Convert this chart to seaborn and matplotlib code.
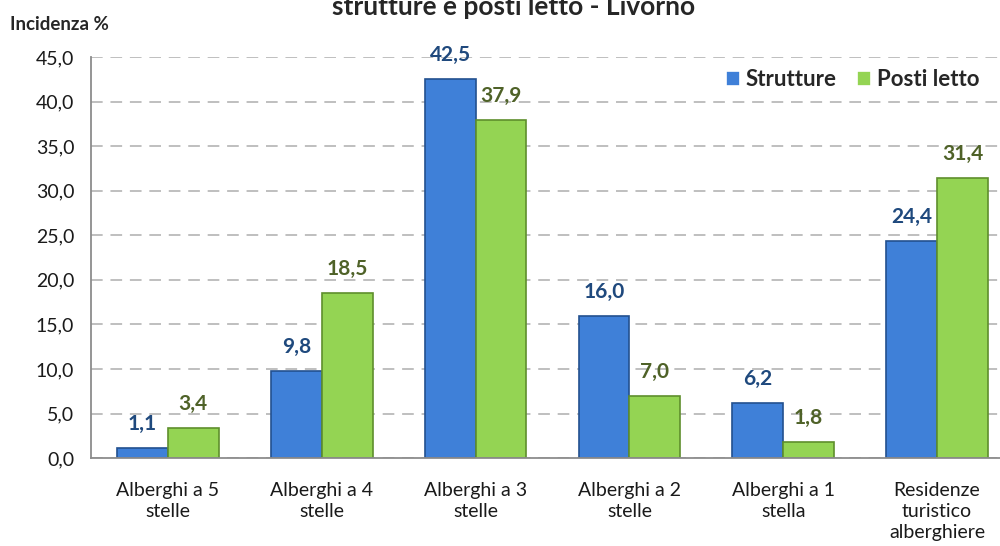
import pandas as pd
import matplotlib
matplotlib.use('Agg')
import matplotlib.pyplot as plt
import seaborn as sns
from matplotlib.ticker import FuncFormatter, MultipleLocator

# Data
categorie = ['Alberghi a 5\nstelle', 'Alberghi a 4\nstelle', 'Alberghi a 3\nstelle',
             'Alberghi a 2\nstelle', 'Alberghi a 1\nstella',
             'Residenze\nturistico\nalberghiere']
strutture = [1.1, 9.8, 42.5, 16.0, 6.2, 24.4]
posti_letto = [3.4, 18.5, 37.9, 7.0, 1.8, 31.4]
serie = ['Strutture', 'Posti letto']

df = pd.DataFrame({
    'categoria': categorie * 2,
    'valore': strutture + posti_letto,
    'serie': [serie[0]] * len(categorie) + [serie[1]] * len(categorie),
})

BLUE = '#3F80D8'
GREEN = '#94D453'
BLUE_EDGE = '#23508F'
GREEN_EDGE = '#5F8F2C'
BLUE_TXT = '#1F497D'
GREEN_TXT = '#4F6228'

sns.set_style('white')
plt.rcParams['font.family'] = ['Lato', 'DejaVu Sans']

fig = plt.figure(figsize=(10, 5.46), dpi=100)
ax = fig.add_axes([0.091, 0.161, 0.923, 0.7345])

sns.barplot(data=df, x='categoria', y='valore', hue='serie',
            palette=[BLUE, GREEN], saturation=1, width=0.66, gap=0, ax=ax,
            linewidth=1.2)

for cont, ec, tc in zip(ax.containers, [BLUE_EDGE, GREEN_EDGE], [BLUE_TXT, GREEN_TXT]):
    for p in cont:
        p.set_edgecolor(ec)
    ax.bar_label(cont, fmt=lambda v: f'{v:.1f}'.replace('.', ','),
                 padding=10, color=tc, fontsize=15, fontweight='bold')

ax.set_xlim(-0.5, 5.5)
ax.set_ylim(0, 45)
ax.yaxis.set_major_locator(MultipleLocator(5))
ax.yaxis.set_major_formatter(FuncFormatter(lambda v, _: f'{v:.1f}'.replace('.', ',')))
ax.grid(axis='y', color='#BFBFBF', linestyle=(0, (6, 4)), linewidth=1.4)
ax.set_axisbelow(True)
ax.tick_params(axis='y', labelsize=14, length=0, pad=12, colors='#1a1a1a')
ax.tick_params(axis='x', labelsize=14, length=0, pad=17, colors='#1a1a1a')
for lbl in ax.get_xticklabels():
    lbl.set_linespacing(1.3)
ax.set_xlabel('')
ax.set_ylabel('')

for side in ['top', 'right']:
    ax.spines[side].set_visible(False)
for side in ['left', 'bottom']:
    ax.spines[side].set_color('#8C8C8C')
    ax.spines[side].set_linewidth(1.3)

handles, labels = ax.get_legend_handles_labels()
ax.legend(handles, labels, loc='center right', bbox_to_anchor=(0.995, 1 - 80 / 546),
          bbox_transform=fig.transFigure, ncol=2, frameon=False,
          handlelength=0.65, handleheight=0.65, handletextpad=0.25,
          columnspacing=0.9, borderpad=0.2, prop={'weight': 'bold', 'size': 16})

fig.text(0.010, 1 - 25 / 546, 'Incidenza %', fontsize=13.5, fontweight='bold',
         va='center', ha='left')
fig.text(0.514, 1 - 15 / 546, 'strutture e posti letto - Livorno', fontsize=19,
         fontweight='bold', va='baseline', ha='center')

fig.savefig('out.png', dpi=100)
